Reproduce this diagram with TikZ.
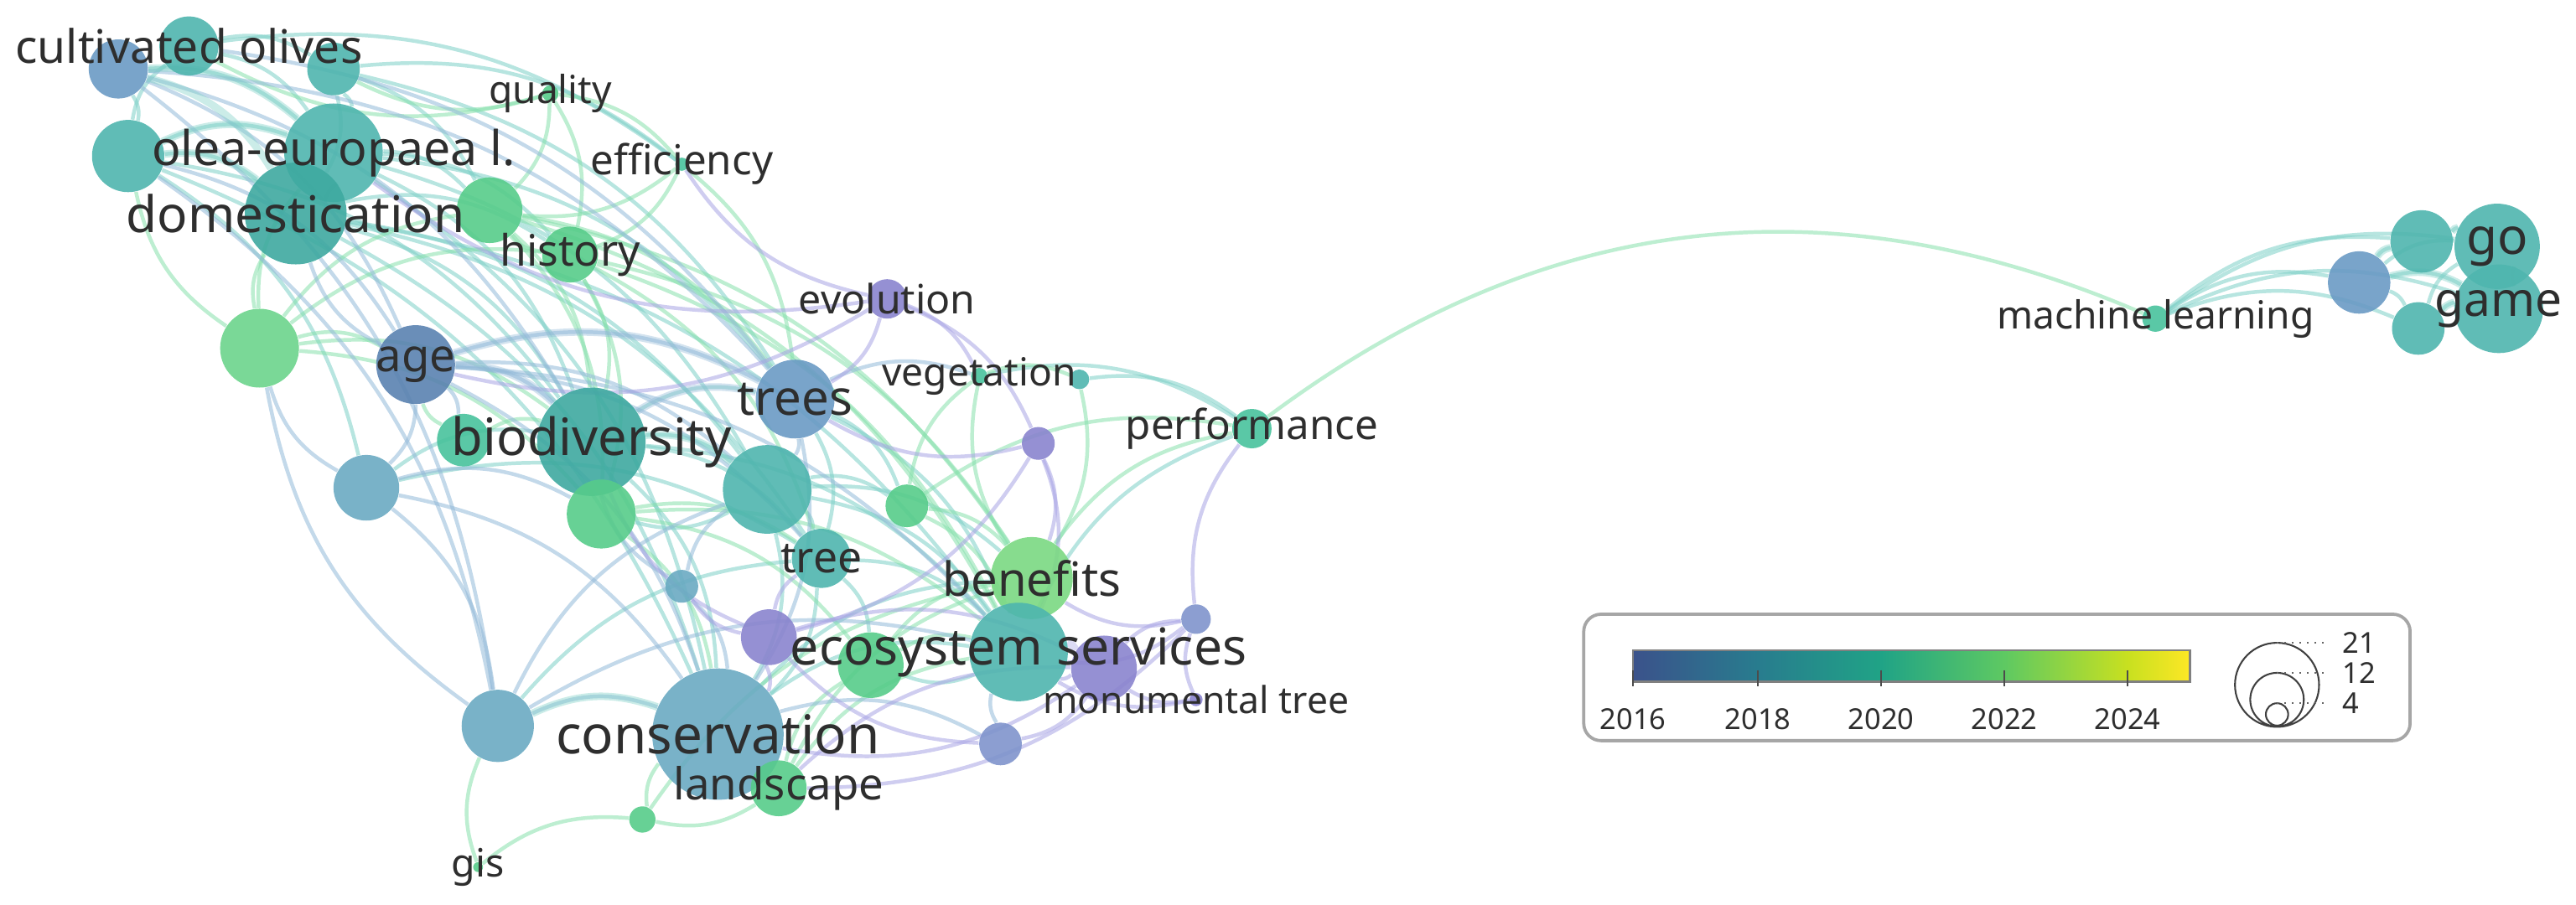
\documentclass[tikz,border=0pt]{standalone}
\usepackage{fontspec}
\setmainfont{Noto Sans}
\pgfdeclarelayer{bg}
\pgfsetlayers{bg,main}
\definecolor{txt}{HTML}{2E2E2E}
\definecolor{cBlue}{HTML}{6A9AC4}
\definecolor{cBlueD}{HTML}{5A82B0}
\definecolor{cSteel}{HTML}{6AAAC2}
\definecolor{cTeal}{HTML}{4FB5AE}
\definecolor{cTealD}{HTML}{3EA9A0}
\definecolor{cGreenT}{HTML}{48C29C}
\definecolor{cGreen}{HTML}{57CC8A}
\definecolor{cGreenL}{HTML}{6CD48C}
\definecolor{cLime}{HTML}{7AD882}
\definecolor{cPurple}{HTML}{8A84CE}
\definecolor{cBlueP}{HTML}{7F94CC}
\definecolor{eTeal}{HTML}{7CCFC6}
\definecolor{eGreen}{HTML}{86E0AC}
\definecolor{eBlue}{HTML}{92B9D8}
\definecolor{ePurple}{HTML}{A8A4E4}
\definecolor{v16}{HTML}{3B528B}
\definecolor{v18}{HTML}{287C8E}
\definecolor{v20}{HTML}{20A386}
\definecolor{v22}{HTML}{5EC962}
\definecolor{v24}{HTML}{C8E020}
\definecolor{v25}{HTML}{FDE725}

\begin{document}
\begin{tikzpicture}[x=0.02cm,y=-0.02cm,
    kw/.style={circle,inner sep=0pt,minimum size=#1*0.04cm,fill opacity=0.9},
    lbl/.style={text=txt,inner sep=0pt},
    lk/.style={line width=1.3pt,draw opacity=0.55,draw=#1},
    thk/.style={line width=2.6pt,draw opacity=0.4,draw=#1}]
\useasboundingbox (0,0) rectangle (1568,551);
\foreach \n/\x/\y/\r/\c in {ka/72/42/18/cBlue,olives/115/28/18/cTeal,kb/203/42/16/cTeal,
  kc/78/95/22/cTeal,olea/203/93/30/cTeal,domest/180/130/31/cTealD,kd/298/128/20/cGreen,
  quality/335/57/5/cGreen,effic/415/100/4/cGreenT,history/347/155/17/cGreen,ke/158/212/24/cGreenL,
  age/253/222/24/cBlueD,evol/540/182/12/cPurple,trees/484/243/24/cBlue,veget/596/229/5/cGreenT,
  kf/657/231/6/cTeal,kg/632/270/10/cPurple,perf/762/261/12/cGreenT,biodiv/360/269/33/cTealD,
  kh/282/268/16/cGreenT,ki/223/297/20/cSteel,kj/467/298/27/cTeal,kk/366/313/21/cGreen,
  kl/552/308/13/cGreen,tree/500/340/18/cTeal,km/415/357/10/cSteel,benef/628/352/25/cLime,
  kn/468/388/17/cPurple,ko/530/405/20/cGreen,ecos/620/397/30/cTeal,kp/672/407/20/cPurple,
  kq/728/377/9/cBlueP,monum/728/426/4/cPurple,kr/303/442/22/cSteel,conserv/437/447/40/cSteel,
  landsc/474/480/17/cGreen,ks/609/453/13/cBlueP,kt/391/499/8/cGreen,gis/291/528/3/cGreen,
  mlearn/1312/194/8/cGreenT,ku/1436/172/19/cBlue,kv/1474/147/19/cTeal,kw/1472/200/16/cTeal,
  go/1520/150/26/cTeal,game/1521/188/27/cTeal}
  \node[kw=\r,fill=\c] (\n) at (\x,\y) {};
\begin{pgfonlayer}{bg}
\foreach \a/\b in {olives/ka,olives/kb,olives/olea,kc/olives,ka/kc,ka/olea,kb/olea,kb/domest,
  kc/olea,kc/domest,olea/domest,olea/kd,olea/history,domest/history,domest/biodiv,olea/trees,
  olea/biodiv,domest/kj,kb/kd,olives/effic,olea/conserv,domest/conserv,kc/ki,kc/conserv,
  biodiv/trees,biodiv/kj,biodiv/tree,biodiv/ecos,biodiv/conserv,kj/tree,kj/ecos,kj/benef,
  trees/ecos,trees/tree,tree/ecos,tree/conserv,conserv/ecos,ki/biodiv,ecos/benef,ecos/perf,
  kf/perf,veget/perf,ecos/ko,kb/effic,domest/tree,olea/kj,kj/conserv,kj/kl,tree/ko,trees/kl,
  kb/trees,domest/ecos,kc/biodiv,ki/tree,kr/tree,conserv/benef,kj/kk,
  mlearn/ku,mlearn/kv,mlearn/go,mlearn/game,mlearn/kw,ku/kv,ku/go,ku/game,ku/kw,kv/go,
  kw/game,go/game,kw/go}
  \draw[lk=eTeal] (\a) to[bend left=22] (\b);
\foreach \a/\b in {quality/history,quality/effic,effic/history,history/kd,history/biodiv,
  history/kk,history/benef,history/ecos,ke/kd,ke/age,ke/history,ke/kk,kd/benef,kl/benef,
  kl/ecos,kk/ko,ko/benef,landsc/ko,landsc/kt,kt/conserv,gis/kr,gis/kt,landsc/ecos,benef/perf,
  effic/trees,veget/kf,kl/veget,benef/veget,quality/kd,ke/domest,ke/olea,kh/biodiv,kh/age,
  ko/ecos,kt/benef,kd/kk,kd/trees,quality/olives,quality/kb,effic/kd,history/tree,kk/tree,
  kk/conserv,kl/perf,ke/kc,kd/biodiv,landsc/benef,kf/benef,ke/biodiv,kd/ecos,kk/ecos}
  \draw[lk=eGreen] (\a) to[bend left=22] (\b);
\foreach \a/\b in {age/trees,age/biodiv,age/kh,age/ki,age/conserv,age/kj,ka/age,ka/trees,
  trees/kj,trees/conserv,kr/conserv,ki/conserv,km/conserv,km/biodiv,km/kj,ki/ke,kr/ke,
  age/domest,kc/age,kr/ecos,conserv/ks,ks/ecos,trees/veget,ka/kr,kc/kr,olives/trees,age/tree,
  ki/kr,kr/kj,ki/kk,ka/biodiv,age/ecos}
  \draw[lk=eBlue] (\a) to[bend left=22] (\b);
\foreach \a/\b in {evol/trees,evol/olea,evol/kg,evol/veget,evol/age,kg/ecos,kg/kn,kg/benef,
  kn/conserv,kn/biodiv,kn/kp,kp/ecos,kp/ks,kp/kq,kq/ecos,kq/perf,monum/ecos,monum/kp,ks/kn,
  landsc/kp,evol/effic,kn/km,kn/tree,kg/trees,kq/benef,monum/kq,kp/conserv,kq/landsc}
  \draw[lk=ePurple] (\a) to[bend left=22] (\b);
\foreach \a/\b/\c in {kc/olea/eTeal,kc/domest/eTeal,ka/domest/eTeal,ka/olea/eTeal,
  biodiv/trees/eBlue,age/biodiv/eBlue,kr/conserv/eTeal,biodiv/kj/eTeal,ecos/kp/ePurple,
  age/trees/eBlue,ku/kv/eTeal,ku/game/eTeal,kw/game/eTeal,kv/go/eTeal}
  \draw[thk=\c] (\a) to[bend left=22] (\b);
\draw[lk=eGreen] (perf) to[bend left=30] (mlearn);
\end{pgfonlayer}
\foreach \n/\t/\s in {olives/cultivated olives/16,olea/olea-europaea l./16.6,
  domest/domestication/17.5,quality/quality/13.4,effic/efficiency/14.3,history/history/15,
  age/age/15.8,evol/evolution/14,trees/trees/16.9,veget/vegetation/13.4,perf/performance/14.3,
  biodiv/biodiversity/17.8,tree/tree/15,benef/benefits/16.3,ecos/ecosystem services/17.6,
  monum/monumental tree/12.9,conserv/conservation/18.5,landsc/landscape/15.3,gis/gis/13.5,
  mlearn/machine learning/13.4,go/go/17.5,game/game/16.5}
  \node[lbl,font=\fontsize{\s}{\s}\selectfont] at (\n) {\t};
\draw[rounded corners=6pt,draw=gray!70,line width=1.1pt,fill=white] (964,374) rectangle (1467,451);
\shade[left color=v16,right color=v18] (994,396) rectangle (1070,415);
\shade[left color=v18,right color=v20] (1070,396) rectangle (1145,415);
\shade[left color=v20,right color=v22] (1145,396) rectangle (1220,415);
\shade[left color=v22,right color=v24] (1220,396) rectangle (1295,415);
\shade[left color=v24,right color=v25] (1295,396) rectangle (1333,415);
\draw[gray,line width=0.8pt] (994,396) rectangle (1333,415);
\foreach \x/\yr in {994/2016,1070/2018,1145/2020,1220/2022,1295/2024}
  \draw[black!70,line width=0.5pt] (\x,408) -- (\x,418) node[below=4pt,text=txt,font=\fontsize{10}{10}\selectfont] {\yr};
\draw[black!75,line width=0.6pt] (1386,417) circle (25.6) (1386,426) circle (16.3) (1386,435) circle (6.8);
\foreach \y/\v in {391.4/21,409.7/12,428.2/4}
  \draw[black!60,dotted,line width=0.6pt] (1386,\y) -- (1416,\y) node[right=2pt,text=txt,font=\fontsize{10}{10}\selectfont] {\v};
\end{tikzpicture}
\end{document}
